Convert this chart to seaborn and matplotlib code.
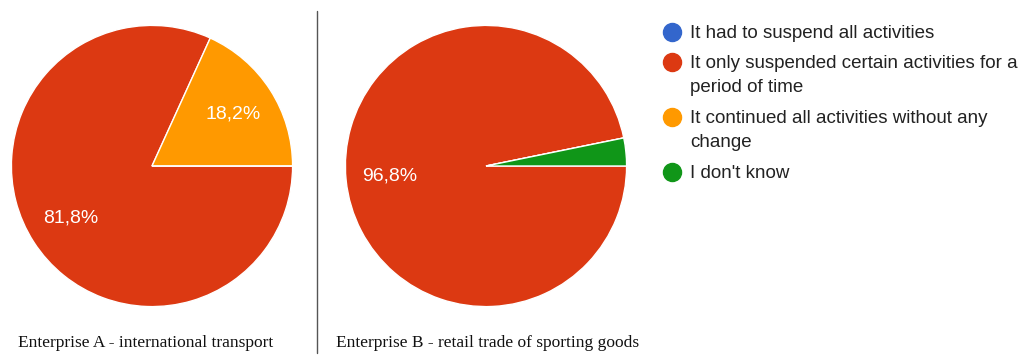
import matplotlib
matplotlib.use("Agg")
import matplotlib.pyplot as plt
from matplotlib.lines import Line2D
import seaborn as sns

sns.set_theme(style="white")
plt.rcParams["font.family"] = ["Liberation Sans", "DejaVu Sans"]

# Survey answers and per-enterprise shares (%)
answers = [
    "It had to suspend all activities",
    "It only suspended certain activities for a\nperiod of time",
    "It continued all activities without any\nchange",
    "I don't know",
]
enterprise_a = [0.0, 81.8, 18.2, 0.0]
enterprise_b = [0.0, 96.8, 0.0, 3.2]
captions = [
    "Enterprise A - international transport",
    "Enterprise B - retail trade of sporting goods",
]

colors = ["#3366CC", "#DC3912", "#FF9900", "#109618"]

W, H = 1024, 355
fig = plt.figure(figsize=(W / 100, H / 100), dpi=100)
fig.patch.set_facecolor("white")


def px_axes(cx, cy, r):
    return fig.add_axes([(cx - r) / W, (H - cy - r) / H, 2 * r / W, 2 * r / H])


def fmt(p):
    return f"{p:.1f}".replace(".", ",") + "%" if p >= 5 else ""


def draw_pie(ax, values):
    ax.pie(
        values, colors=colors, startangle=0, counterclock=False,
        autopct=fmt, pctdistance=0.685,
        wedgeprops=dict(edgecolor="white", linewidth=1.0),
        textprops=dict(color="white", fontsize=14),
    )
    ax.set_xlim(-1.01, 1.01)
    ax.set_ylim(-1.01, 1.01)
    ax.set_aspect("equal")
    ax.axis("off")


ax_a = px_axes(152, 166, 142)
draw_pie(ax_a, enterprise_a)
ax_b = px_axes(486, 166, 142)
draw_pie(ax_b, enterprise_b)

# divider between the two pies
fig.add_artist(Line2D([317 / W, 317 / W], [1 - 11 / H, 1 - 353 / H],
                      transform=fig.transFigure, color="#555555", linewidth=1.0))

# captions under each pie
for x, cap in zip([18, 336], captions):
    fig.text(x / W, 1 - 343 / H, cap, ha="left", va="center",
             fontsize=12.5, color="#111111",
             family=["Liberation Serif", "DejaVu Serif"])

# legend
legend_rows = [32, 62, 117, 172]
for y, label, c in zip(legend_rows, answers, colors):
    fig.add_artist(Line2D([672 / W], [1 - y / H], marker="o", markersize=13,
                          markerfacecolor=c, markeredgecolor=c, linestyle="none",
                          transform=fig.transFigure))
    fig.text(690 / W, 1 - (y - 7) / H, label, ha="left", va="top",
             fontsize=13.5, color="#222222", linespacing=1.53)

fig.savefig("out.png", dpi=100, facecolor="white")
